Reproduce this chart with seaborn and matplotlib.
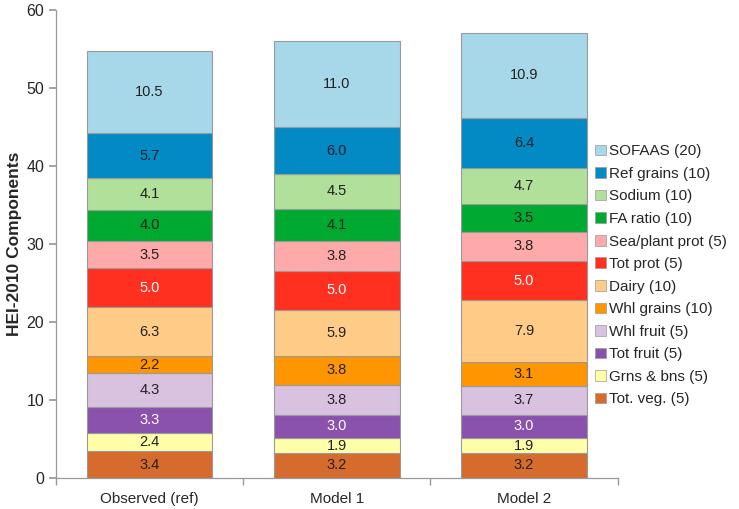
import matplotlib
matplotlib.use("Agg")
import matplotlib.pyplot as plt
import pandas as pd
import seaborn as sns

models = ["Observed (ref)", "Model 1", "Model 2"]
components = [
    "Tot. veg. (5)", "Grns & bns (5)", "Tot fruit (5)", "Whl fruit (5)",
    "Whl grains (10)", "Dairy (10)", "Tot prot (5)", "Sea/plant prot (5)",
    "FA ratio (10)", "Sodium (10)", "Ref grains (10)", "SOFAAS (20)",
]
observed = [3.4, 2.4, 3.3, 4.3, 2.2, 6.3, 5.0, 3.5, 4.0, 4.1, 5.7, 10.5]
model1 = [3.2, 1.9, 3.0, 3.8, 3.8, 5.9, 5.0, 3.8, 4.1, 4.5, 6.0, 11.0]
model2 = [3.2, 1.9, 3.0, 3.7, 3.1, 7.9, 5.0, 3.8, 3.5, 4.7, 6.4, 10.9]

colors = [
    "#D66B2E", "#FFFFAA", "#8A52AC", "#D9C2E0", "#FF9500", "#FFCC88",
    "#FF3020", "#FFAAAA", "#00AA30", "#B0E09A", "#038AC4", "#A6D8EA",
]
white_text = {"Tot fruit (5)", "Tot prot (5)"}

rows = []
for i, comp in enumerate(components):
    for model, vals in zip(models, [observed, model1, model2]):
        rows.append({"model": model, "component": comp, "value": vals[i]})
df = pd.DataFrame(rows)

sns.set_theme(style="white")
plt.rcParams["font.family"] = ["Liberation Sans", "DejaVu Sans"]

fig = plt.figure(figsize=(7.39, 5.09), dpi=100)
ax = fig.add_axes([0.0758, 0.061, 0.76, 0.919])

bottom = pd.Series(0.0, index=models)
handles = []
for comp, color in zip(components, colors):
    sub = df[df["component"] == comp].set_index("model").loc[models]
    sns.barplot(
        x=models, y=sub["value"].values, bottom=bottom.values,
        color=color, width=0.67, edgecolor="#9a9a9a", linewidth=0.8,
        saturation=1, ax=ax,
    )
    txt_color = "white" if comp in white_text else "#222222"
    for j, m in enumerate(models):
        v = sub.loc[m, "value"]
        ax.text(j, bottom[m] + v / 2, f"{v:.1f}", ha="center", va="center",
                fontsize=10.5, color=txt_color)
    bottom = bottom + sub["value"]
    handles.append(plt.Rectangle((0, 0), 1, 1, facecolor=color,
                                 edgecolor="#9a9a9a", linewidth=0.5, label=comp))

ax.set_xlim(-0.5, 2.5)
ax.set_ylim(0, 60)
ax.set_yticks(range(0, 61, 10))
ax.set_xticks([-0.5, 0.5, 1.5, 2.5], minor=True)
ax.tick_params(axis="x", which="major", length=0, labelsize=11, pad=10)
ax.tick_params(axis="x", which="minor", length=5, color="#999999", direction="out")
ax.tick_params(axis="y", length=5, color="#999999", direction="out", labelsize=11.5)
ax.tick_params(axis="x", which="minor", bottom=True)
ax.tick_params(axis="y", left=True)
for s in ["top", "right"]:
    ax.spines[s].set_visible(False)
for s in ["left", "bottom"]:
    ax.spines[s].set_color("#999999")
    ax.spines[s].set_linewidth(0.9)
ax.set_ylabel("HEI-2010 Components", fontsize=12.5, fontweight="bold", labelpad=3)
ax.set_xlabel("")

fig.legend(
    handles=handles[::-1], loc="center left", bbox_to_anchor=(0.805, 0.459),
    frameon=False, fontsize=11, handlelength=0.7, handleheight=0.7,
    handletextpad=0.25, labelspacing=0.56, borderpad=0, borderaxespad=0,
)

fig.savefig("out.png", dpi=100)
